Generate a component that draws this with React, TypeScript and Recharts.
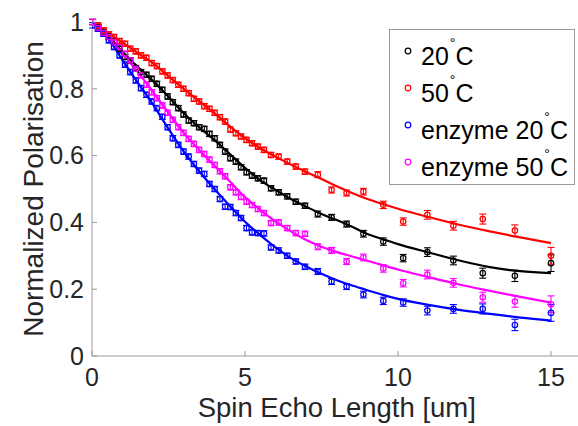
import React from 'react';
import { ComposedChart, Scatter, Line, XAxis, YAxis, ErrorBar, Legend, Label } from 'recharts';

// Spin echo lengths [um] of the measured points
const xVals = [0.02, 0.2, 0.38, 0.55, 0.72, 0.9, 1.08, 1.25, 1.43, 1.6, 1.78, 1.95, 2.12, 2.3, 2.47, 2.64, 2.82, 2.99, 3.16, 3.33, 3.5, 3.67, 3.84, 4.01, 4.18, 4.35, 4.52, 4.7, 4.87, 5.05, 5.23, 5.42, 5.62, 5.85, 6.1, 6.38, 6.66, 6.96, 7.38, 7.83, 8.32, 8.87, 9.52, 10.17, 10.96, 11.81, 12.77, 13.82, 15.0];

const y20C = [1.0, 0.985, 0.97, 0.957, 0.942, 0.92, 0.895, 0.885, 0.862, 0.85, 0.842, 0.83, 0.815, 0.797, 0.777, 0.76, 0.742, 0.723, 0.705, 0.697, 0.685, 0.68, 0.665, 0.652, 0.632, 0.612, 0.592, 0.582, 0.565, 0.55, 0.54, 0.532, 0.525, 0.502, 0.49, 0.478, 0.462, 0.45, 0.425, 0.415, 0.395, 0.366, 0.3425, 0.293, 0.311, 0.286, 0.248, 0.24, 0.278];
const y50C = [1.0, 0.99, 0.975, 0.963, 0.955, 0.943, 0.935, 0.92, 0.912, 0.9, 0.893, 0.877, 0.868, 0.852, 0.84, 0.826, 0.812, 0.8, 0.787, 0.77, 0.762, 0.748, 0.74, 0.728, 0.715, 0.702, 0.678, 0.667, 0.657, 0.647, 0.637, 0.627, 0.617, 0.602, 0.597, 0.582, 0.567, 0.552, 0.543, 0.497, 0.488, 0.492, 0.4525, 0.4025, 0.4225, 0.39, 0.41, 0.3755, 0.3];
const yEnz20C = [0.99, 0.98, 0.965, 0.945, 0.925, 0.9, 0.872, 0.85, 0.825, 0.802, 0.782, 0.762, 0.742, 0.716, 0.685, 0.652, 0.632, 0.612, 0.597, 0.575, 0.555, 0.545, 0.515, 0.5, 0.47, 0.447, 0.446, 0.428, 0.413, 0.383, 0.37, 0.368, 0.367, 0.325, 0.316, 0.3, 0.283, 0.267, 0.253, 0.223, 0.208, 0.184, 0.165, 0.16, 0.136, 0.141, 0.141, 0.093, 0.129];
const yEnz50C = [1.0, 0.983, 0.968, 0.955, 0.94, 0.925, 0.905, 0.885, 0.86, 0.84, 0.812, 0.79, 0.772, 0.75, 0.728, 0.707, 0.685, 0.668, 0.65, 0.635, 0.617, 0.605, 0.588, 0.572, 0.553, 0.538, 0.505, 0.49, 0.476, 0.462, 0.452, 0.44, 0.428, 0.398, 0.4, 0.383, 0.368, 0.366, 0.327, 0.316, 0.283, 0.295, 0.262, 0.218, 0.244, 0.219, 0.176, 0.163, 0.155];
const errVals = [0.008, 0.008, 0.008, 0.008, 0.008, 0.008, 0.008, 0.008, 0.008, 0.008, 0.008, 0.008, 0.008, 0.008, 0.008, 0.008, 0.008, 0.008, 0.008, 0.008, 0.008, 0.008, 0.008, 0.008, 0.008, 0.008, 0.008, 0.008, 0.008, 0.008, 0.008, 0.008, 0.008, 0.008, 0.008, 0.008, 0.008, 0.008, 0.009, 0.009, 0.009, 0.01, 0.011, 0.011, 0.013, 0.013, 0.015, 0.017, 0.025];

// Fitted curves
const fitX = [0, 0.5, 1, 1.5, 2, 2.5, 3, 3.5, 4, 4.5, 5, 5.5, 6, 6.5, 7, 7.5, 8, 8.5, 9, 9.5, 10, 11, 12, 13, 14, 15];
const fit20C = [1.0, 0.962, 0.91, 0.865, 0.823, 0.776, 0.727, 0.685, 0.647, 0.605, 0.563, 0.526, 0.497, 0.47, 0.447, 0.425, 0.407, 0.387, 0.365, 0.35, 0.335, 0.31, 0.286, 0.266, 0.254, 0.248];
const fit50C = [1.0, 0.968, 0.938, 0.907, 0.876, 0.838, 0.8, 0.763, 0.727, 0.688, 0.652, 0.622, 0.597, 0.573, 0.551, 0.53, 0.508, 0.488, 0.47, 0.455, 0.441, 0.416, 0.393, 0.373, 0.355, 0.338];
const fitEnz20C = [1.0, 0.955, 0.885, 0.818, 0.752, 0.68, 0.612, 0.553, 0.5, 0.45, 0.402, 0.362, 0.325, 0.293, 0.268, 0.246, 0.227, 0.211, 0.197, 0.183, 0.171, 0.153, 0.138, 0.126, 0.115, 0.106];
const fitEnz50C = [1.0, 0.958, 0.905, 0.85, 0.79, 0.728, 0.668, 0.617, 0.57, 0.523, 0.476, 0.437, 0.403, 0.373, 0.347, 0.327, 0.311, 0.298, 0.285, 0.272, 0.259, 0.236, 0.214, 0.195, 0.177, 0.16];

const xTicks = [0, 5, 10, 15];
const yTicks = [0, 0.2, 0.4, 0.6, 0.8, 1];
const legendPrefixes = ['', '', 'enzyme ', 'enzyme '];
const legendTemps = ['20', '50', '20', '50'];
const seriesColors = ['#000000', '#ff0000', '#0000ff', '#ff00ff'];

const FONT = '"Liberation Sans", Arial, Helvetica, sans-serif';
const TEXT_COLOR = '#262626';
const AXIS_COLOR = '#9a9a9a';
const TICK_LEN = 5;
const X_TICK_MARGIN = 12;
const Y_TICK_MARGIN = 8;

const seriesList = [
  { ys: y20C, fit: fit20C },
  { ys: y50C, fit: fit50C },
  { ys: yEnz20C, fit: fitEnz20C },
  { ys: yEnz50C, fit: fitEnz50C },
].map((s, i) => ({
  color: seriesColors[i],
  points: xVals.map((x, j) => ({ x, y: s.ys[j], e: errVals[j] })),
  fitData: fitX.map((x, j) => ({ x, y: s.fit[j] })),
}));

const BottomTick = (props: any) => {
  const { x, y, payload } = props;
  const axisY = y - X_TICK_MARGIN;
  return (
    <g>
      <line x1={x} x2={x} y1={axisY} y2={axisY - TICK_LEN} stroke={AXIS_COLOR} strokeWidth={1} />
      <text x={x} y={y} dy="0.71em" textAnchor="middle" fontSize={25} fontFamily={FONT} fill={TEXT_COLOR}>
        {String(payload.value)}
      </text>
    </g>
  );
};

const LeftTick = (props: any) => {
  const { x, y, payload } = props;
  const axisX = x + Y_TICK_MARGIN;
  return (
    <g>
      <line x1={axisX} x2={axisX + TICK_LEN} y1={y} y2={y} stroke={AXIS_COLOR} strokeWidth={1} />
      <text x={x} y={y} dy="0.355em" textAnchor="end" fontSize={25} fontFamily={FONT} fill={TEXT_COLOR}>
        {String(payload.value)}
      </text>
    </g>
  );
};

const TopTick = (props: any) => {
  const { x, y } = props;
  return <line x1={x} x2={x} y1={y} y2={y + TICK_LEN} stroke={AXIS_COLOR} strokeWidth={1} />;
};

const RightTick = (props: any) => {
  const { x, y } = props;
  return <line x1={x} x2={x - TICK_LEN} y1={y} y2={y} stroke={AXIS_COLOR} strokeWidth={1} />;
};

const makeCircle = (color: string) => (props: any) => {
  const { cx, cy } = props;
  if (cx == null || cy == null) return <g />;
  return <circle cx={cx} cy={cy} r={2.7} fill="none" stroke={color} strokeWidth={1.2} />;
};

const LegendBox = () => (
  <svg width={186} height={156} style={{ display: 'block' }}>
    <rect x={0.5} y={0.5} width={185} height={155} fill="#ffffff" stroke={AXIS_COLOR} strokeWidth={1} />
    {seriesColors.map((c, i) => {
      const base = 36 + i * 37;
      return (
        <g key={i}>
          <circle cx={19} cy={base - 14} r={2.8} fill="none" stroke={c} strokeWidth={1.2} />
          <text x={32} y={base} fontSize={25} fontFamily={FONT} fill="#000000">
            <tspan>{legendPrefixes[i] + legendTemps[i]}</tspan>
            <tspan dx={1} dy={-17} fontSize={14}>°</tspan>
            <tspan dx={0} dy={17}>C</tspan>
          </text>
        </g>
      );
    })}
  </svg>
);

const YAxisTitle = (props: any) => {
  const vb = props.viewBox || { x: 0, y: 22, width: 92, height: 334 };
  const cy = vb.y + vb.height / 2;
  return (
    <text transform={`translate(${vb.x + 43}, ${cy}) rotate(-90)`} textAnchor="middle" fontSize={28} fontFamily={FONT} fill={TEXT_COLOR}>
      Normalized Polarisation
    </text>
  );
};

const XAxisTitle = (props: any) => {
  const vb = props.viewBox || { x: 92, y: 356, width: 490, height: 30 };
  return (
    <text x={vb.x + vb.width / 2} y={vb.y + 41} dy="0.71em" textAnchor="middle" fontSize={27.5} fontFamily={FONT} fill={TEXT_COLOR}>
      Spin Echo Length [um]
    </text>
  );
};

export default function App() {
  return (
    <div style={{ position: 'fixed', left: 0, top: 0, width: 578, height: 426, overflow: 'hidden', background: '#ffffff' }}>
      <ComposedChart
        width={590}
        height={426}
        margin={{ top: 22, right: 8.4, bottom: 40, left: 0 }}
        style={{ fontFamily: FONT }}
      >
        <XAxis
          xAxisId="main"
          dataKey="x"
          type="number"
          domain={[0, 16]}
          ticks={xTicks}
          allowDataOverflow
          height={30}
          tickSize={0}
          tickMargin={X_TICK_MARGIN}
          tickLine={false}
          axisLine={{ stroke: AXIS_COLOR, strokeWidth: 1 }}
          tick={<BottomTick />}
          interval={0}
          label={<Label content={<XAxisTitle />} />}
        />
        <XAxis
          xAxisId="top"
          dataKey="x"
          type="number"
          orientation="top"
          domain={[0, 16]}
          ticks={xTicks}
          allowDataOverflow
          height={0}
          tickSize={0}
          tickMargin={0}
          tickLine={false}
          axisLine={{ stroke: AXIS_COLOR, strokeWidth: 1 }}
          tick={<TopTick />}
          interval={0}
        />
        <YAxis
          yAxisId="main"
          type="number"
          domain={[0, 1]}
          ticks={yTicks}
          allowDataOverflow
          width={92}
          tickSize={0}
          tickMargin={Y_TICK_MARGIN}
          tickLine={false}
          axisLine={{ stroke: AXIS_COLOR, strokeWidth: 1 }}
          tick={<LeftTick />}
          interval={0}
          label={<Label content={<YAxisTitle />} />}
        />
        <YAxis
          yAxisId="right"
          type="number"
          orientation="right"
          domain={[0, 1]}
          ticks={yTicks}
          allowDataOverflow
          width={0}
          tickSize={0}
          tickMargin={0}
          tickLine={false}
          axisLine={{ stroke: AXIS_COLOR, strokeWidth: 1 }}
          tick={<RightTick />}
          interval={0}
        />
        {seriesList.map((s, i) => (
          <Scatter
            key={`sc${i}`}
            xAxisId="main"
            yAxisId="main"
            data={s.points}
            dataKey="y"
            fill="none"
            stroke={s.color}
            shape={makeCircle(s.color)}
            isAnimationActive={false}
            legendType="none"
          >
            <ErrorBar dataKey="e" direction="y" width={3.5} stroke={s.color} strokeWidth={1.1} />
          </Scatter>
        ))}
        {seriesList.map((s, i) => (
          <Line
            key={`ln${i}`}
            xAxisId="main"
            yAxisId="main"
            data={s.fitData}
            dataKey="y"
            type="monotone"
            stroke={s.color}
            strokeWidth={2.2}
            dot={false}
            activeDot={false}
            isAnimationActive={false}
            legendType="none"
          />
        ))}
        <Legend
          layout="horizontal"
          verticalAlign="middle"
          align="center"
          content={<LegendBox />}
          wrapperStyle={{ position: 'absolute', left: 389, top: 29, width: 186, height: 156 }}
        />
      </ComposedChart>
    </div>
  );
}
